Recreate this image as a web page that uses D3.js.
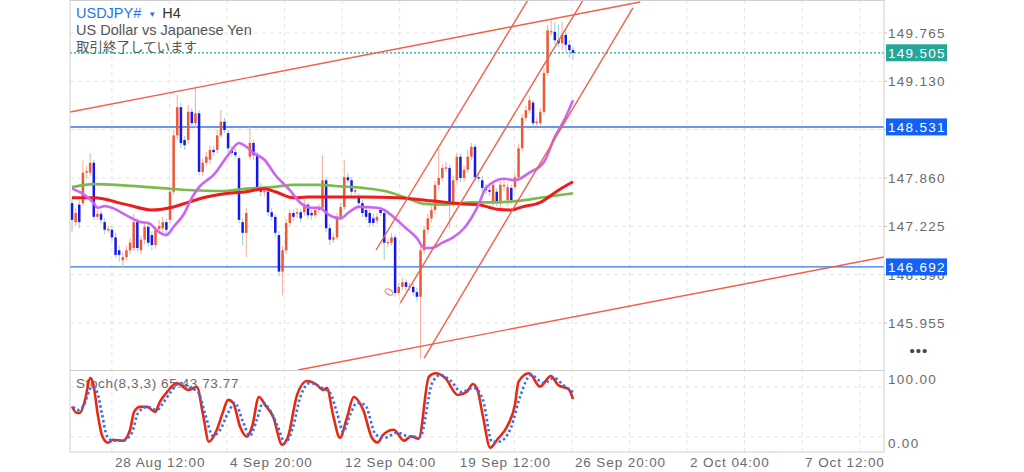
<!DOCTYPE html>
<html><head><meta charset="utf-8">
<script src="https://cdn.jsdelivr.net/npm/d3@7"></script>
<style>
html,body{margin:0;padding:0;background:#fff;}
svg{display:block;font-family:"Liberation Sans",Arial,sans-serif;}
</style></head><body>
<svg id="c" width="1024" height="472"></svg>
<script>
// ---------- DATA ----------
const symbol = "USDJPY#", timeframe = "H4";
const subtitle1 = "US Dollar vs Japanese Yen";
const subtitle2 = "取引終了しています";

const open = [147.53,147.28,147.51,147.53,147.93,147.93,148.06,147.35,147.39,147.28,
147.18,147.18,147.08,146.91,146.78,146.82,146.91,146.94,147.28,146.91,
147.05,147.22,147.11,146.98,147.19,147.20,147.28,147.31,147.68,148.42,
148.79,148.36,148.36,148.73,148.58,148.71,147.94,148.06,148.10,148.23,
148.23,148.42,148.60,148.45,148.23,148.20,148.12,147.28,147.14,148.14,
148.32,148.16,147.74,147.68,147.68,147.41,147.35,147.11,146.63,146.91,
147.27,147.40,147.39,147.41,147.41,147.51,147.40,147.37,147.44,147.47,
147.83,147.20,147.05,147.08,147.35,147.48,147.87,147.83,147.68,147.61,
147.53,147.44,147.40,147.33,147.30,147.44,147.40,147.01,147.01,147.08,
146.35,146.43,146.49,146.43,146.43,146.36,146.30,146.91,147.18,147.33,
147.44,147.77,147.86,147.99,147.99,147.53,147.83,148.14,147.86,147.97,
148.14,148.27,147.87,147.83,147.73,147.70,147.54,147.68,147.54,147.75,
147.57,147.73,147.74,147.87,148.25,148.65,148.75,148.85,148.58,148.58,
148.73,149.24,149.78,149.78,149.67,149.63,149.74,149.61,149.54];
const high = [147.60,147.47,147.57,148.10,148.02,148.19,148.10,147.44,147.43,147.33,
147.24,147.23,147.14,146.97,146.89,146.97,147.07,147.39,147.33,147.10,
147.28,147.26,147.16,147.23,147.31,147.35,147.32,147.73,148.49,148.95,
148.85,148.41,148.82,148.78,149.06,148.75,148.12,148.20,148.29,148.28,
148.49,148.75,148.65,148.49,148.28,148.25,148.16,147.33,147.47,148.53,
148.36,148.20,147.79,147.75,147.72,147.47,147.39,147.16,146.97,147.32,
147.45,147.44,147.47,147.45,147.57,147.54,147.44,147.49,147.52,148.16,
147.87,147.26,147.14,147.40,147.53,148.10,147.93,147.87,147.75,147.66,
147.57,147.48,147.44,147.39,147.40,147.49,147.44,147.07,147.14,147.12,
146.48,146.55,146.53,146.48,146.47,146.42,146.97,147.23,147.39,147.49,
147.82,148.25,148.04,148.07,148.03,147.89,148.19,148.18,148.02,148.23,
148.32,148.31,147.94,147.89,147.78,147.75,147.83,147.73,147.82,147.83,
147.79,147.77,147.93,148.31,148.70,148.81,148.94,148.88,148.65,148.78,
149.31,149.87,149.94,149.91,149.88,149.91,149.83,149.67,149.59];
const low = [147.15,147.23,147.20,147.49,147.86,147.89,147.31,147.31,147.26,147.12,
147.14,147.03,146.81,146.76,146.68,146.78,146.86,146.90,146.89,146.86,
146.99,146.95,146.91,146.93,147.14,147.15,147.12,147.26,147.64,148.36,
148.25,148.23,148.31,148.53,148.52,147.90,147.89,148.02,148.04,148.15,
148.18,148.39,148.45,148.20,148.14,148.12,147.27,146.98,146.82,148.10,
148.10,147.70,147.62,147.62,147.36,147.30,147.08,146.57,146.32,146.86,
147.22,147.30,147.33,147.28,147.36,147.32,147.31,147.33,147.40,147.43,
147.15,146.98,147.01,147.05,147.31,147.44,147.79,147.62,147.64,147.48,
147.35,147.30,147.22,147.22,147.26,147.36,146.78,146.95,146.97,146.30,
146.31,146.39,146.38,146.38,146.31,146.24,145.49,146.86,147.12,147.28,
147.39,147.72,147.82,147.94,147.20,147.48,147.78,147.81,147.81,147.93,
148.10,147.82,147.81,147.68,147.65,147.62,147.49,147.49,147.44,147.70,
147.49,147.52,147.70,147.83,148.21,148.61,148.71,148.54,148.54,148.54,
148.69,149.20,149.73,149.62,149.58,149.54,149.52,149.44,149.41];
const close = [147.31,147.40,147.28,147.93,147.95,148.06,147.35,147.39,147.31,147.18,
147.19,147.08,146.85,146.85,146.82,146.91,147.01,147.28,146.94,147.05,
147.22,147.01,146.98,147.18,147.23,147.28,147.18,147.68,148.42,148.79,
148.32,148.29,148.73,148.58,148.71,147.94,148.06,148.14,148.23,148.20,
148.42,148.60,148.49,148.25,148.19,148.16,147.31,147.14,147.40,148.32,
148.16,147.74,147.68,147.69,147.41,147.35,147.14,146.63,146.91,147.27,
147.40,147.35,147.41,147.33,147.51,147.37,147.37,147.44,147.47,147.83,
147.20,147.05,147.08,147.35,147.48,147.87,147.83,147.68,147.70,147.53,
147.40,147.35,147.27,147.27,147.35,147.40,147.01,147.02,147.08,146.35,
146.43,146.49,146.43,146.44,146.36,146.30,146.91,147.18,147.33,147.44,
147.77,147.86,147.99,148.00,147.53,147.83,148.14,147.86,147.97,148.14,
148.27,147.87,147.86,147.73,147.70,147.68,147.77,147.54,147.77,147.77,
147.74,147.57,147.87,148.25,148.65,148.75,148.88,148.58,148.60,148.73,
149.24,149.80,149.79,149.67,149.63,149.74,149.61,149.54,149.505];

// moving averages: [bar index, price]
const maFast = [[0,147.72],[6,147.53],[7,147.47],[9,147.49],[11,147.47],[15,147.37],[19,147.28],[21,147.27],[24,147.15],[26,147.11],[28,147.22],[31,147.40],[33,147.60],[35,147.74],[39,147.90],[43,148.16],[46,148.32],[48,148.27],[50,148.19],[53,148.10],[56,147.90],[60,147.70],[63,147.53],[66,147.47],[68,147.47],[71,147.37],[74,147.33],[76,147.40],[79,147.48],[84,147.47],[86,147.44],[89,147.33],[92,147.20],[95,147.07],[97,146.94],[99,146.94],[102,147.01],[105,147.08],[108,147.20],[112,147.51],[114,147.73],[119,147.85],[122,147.83],[126,147.93],[130,148.07],[133,148.40],[136,148.66],[138,148.88]];
const maMid = [[0,147.60],[6,147.60],[15,147.51],[22,147.44],[27,147.47],[32,147.54],[37,147.61],[43,147.66],[48,147.68],[53,147.72],[56,147.68],[61,147.60],[65,147.61],[70,147.61],[74,147.61],[80,147.61],[90,147.60],[99,147.56],[108,147.52],[112,147.51],[117,147.45],[121,147.44],[124,147.48],[129,147.54],[134,147.70],[138,147.81]];
const maSlow = [[0,147.74],[6,147.78],[15,147.76],[24,147.73],[33,147.70],[41,147.69],[48,147.72],[55,147.74],[61,147.77],[68,147.77],[74,147.75],[80,147.73],[87,147.68],[92,147.60],[97,147.52],[103,147.51],[110,147.54],[117,147.54],[123,147.56],[129,147.60],[138,147.66]];

// horizontal levels and current price
const levels = [148.531, 146.692];
const lastPrice = 149.505;
// trend lines: [[idx, price],[idx, price]]
const trendLines = [
  [[-0.55,148.727],[156.5,150.173]],
  [[62.26,145.337],[223.7,146.822]],
  [[83.75,146.914],[125.6,150.199]],
  [[90.4,146.217],[140.8,150.199]],
  [[97.0,145.494],[154.5,150.094]]
];

// stochastic (8,3,3): [bar index, value]
const stochName = "Stoch(8,3,3)";
const stochK = [[0,56.4],[1.3,48.8],[2.2,48.8],[3.6,64.4],[5,90.8],[5.8,84.8],[7.2,44],[8.3,21.2],[9.9,12.8],[11.3,16.4],[14,15.2],[16,28.4],[17.1,50],[18.7,56],[20.7,56],[22.9,50],[24.2,62],[26.2,74],[28.9,84.8],[30.6,80],[32,76.4],[34.4,80],[36.1,46.4],[37.7,14],[39.9,28.4],[41.6,50],[43,64.4],[44.4,60.8],[46.3,32],[48.2,20],[49.6,32],[51.5,68],[53.2,58.4],[55.4,44],[57.9,10.4],[59.5,20],[62,70.4],[64.7,87.2],[67.5,82.4],[69.1,76.4],[70.2,78.8],[71.9,46.4],[73.8,18.8],[75.8,44],[77.6,68],[80.2,52.4],[82.6,18.8],[84.2,13.2],[85.7,22.4],[88.6,28.4],[91.5,15.2],[93.4,20.4],[95.5,17.6],[98.3,92.4],[100.2,96.5],[102.8,90.8],[106.3,70.4],[108.8,74.4],[110.4,83.6],[111.7,76.4],[113.2,44.4],[115.2,6.8],[117.1,16.4],[120.1,34.4],[122,58.4],[123,86.4],[125.9,96.5],[128.9,80.4],[131.9,93.2],[133.9,82.4],[136.8,77.3],[138,65.43]];
const stochD = [[0.3,56],[1.7,52.4],[3,56],[5.5,80],[6.9,74],[8.3,46.4],[9.6,21.2],[11.3,15.2],[14,15.2],[16.5,24.8],[18.2,48.8],[20.7,56],[23.4,52.4],[25.1,60.8],[27,72.8],[29.8,84.8],[32.5,78.8],[34.7,74],[36.6,48.8],[38.8,21.2],[40.8,28.4],[43,48.8],[44.9,60.8],[47.1,38],[49,21.2],[50.9,40.4],[52.6,60.8],[54.5,52.4],[56.7,32],[58.7,12.8],[60.9,32],[62.8,66.8],[65.6,84.8],[68.9,78.8],[71.1,72.8],[73,48.8],[74.7,26],[76.6,46.4],[78.5,60.8],[80.7,58.4],[83.7,22.4],[86.2,18.8],[89.5,24.8],[93.1,20],[95.9,20],[99.2,84.8],[101.4,94.4],[104.4,87.2],[107.2,74],[110.7,78.8],[113.2,64.4],[115.7,14],[117.6,14],[120.9,30.8],[123.4,68],[126.4,94.4],[130,84.8],[132.8,90.8],[135.3,82.4],[138,73.77]];
const stochLevels = [80, 20];

// axis ticks
const priceTicks = [149.765, 149.130, 148.495, 147.860, 147.225, 146.590, 145.955];
const timeTickIdx = [11.0, 42.7, 74.4, 106.0, 137.7, 169.4, 201.1];
const timeTickLabels = ["28 Aug 12:00","4 Sep 20:00","12 Sep 04:00","19 Sep 12:00","26 Sep 20:00","2 Oct 04:00","7 Oct 12:00"];

// ---------- LAYOUT ----------
const L = 70, R = 884, MT = 0, MB = 370.5, SB = 452;
const svg = d3.select("#c");
const x = d3.scaleLinear().domain([0, close.length - 1]).range([72, 573]);
const y = d3.scaleLinear().domain([145.955, 149.765]).range([323, 33]);
const ys = d3.scaleLinear().domain([0, 100]).range([453.3, 370.4]);

const defs = svg.append("defs");
defs.append("clipPath").attr("id","clipMain").append("rect").attr("x",L).attr("y",MT).attr("width",R-L).attr("height",MB-MT);
defs.append("clipPath").attr("id","clipStoch").append("rect").attr("x",L).attr("y",MB).attr("width",R-L).attr("height",SB-MB);

// grid
const step = timeTickIdx[1]-timeTickIdx[0];
const gridIdx = [];
timeTickIdx.forEach(t => { gridIdx.push(t); gridIdx.push(t + step/2); });
const grid = svg.append("g").attr("stroke","#e4e4e4").attr("stroke-dasharray","4,4").attr("stroke-width",1);
gridIdx.filter(t => x(t) > L && x(t) < R).forEach(t => {
  grid.append("line").attr("x1",x(t)).attr("x2",x(t)).attr("y1",MT).attr("y2",SB);
});
priceTicks.forEach(p => grid.append("line").attr("x1",L).attr("x2",R).attr("y1",y(p)).attr("y2",y(p)));
stochLevels.forEach(v => grid.append("line").attr("x1",L).attr("x2",R).attr("y1",ys(v)).attr("y2",ys(v)));

// title
const t1 = svg.append("text").attr("x",76).attr("y",18).attr("font-size",14.5);
t1.append("tspan").attr("fill","#1f74e8").text(symbol);
t1.append("tspan").attr("fill","#1f74e8").attr("font-size",8).attr("dx",7).attr("dy",-1).text("▼");
t1.append("tspan").attr("fill","#333").attr("dx",6).attr("dy",1).text(timeframe);
svg.append("text").attr("x",76).attr("y",35).attr("font-size",14.5).attr("fill","#555").text(subtitle1);
svg.append("text").attr("x",76).attr("y",52).attr("font-size",13.5).attr("fill","#555")
  .attr("font-family","'Noto Sans CJK JP',sans-serif").text(subtitle2);

// main pane content
const main = svg.append("g").attr("clip-path","url(#clipMain)");
levels.forEach(p => main.append("line").attr("x1",L).attr("x2",R).attr("y1",y(p)).attr("y2",y(p))
  .attr("stroke","#3574f0").attr("stroke-width",1.4));
main.append("line").attr("x1",L).attr("x2",R).attr("y1",y(lastPrice)).attr("y2",y(lastPrice))
  .attr("stroke","#26a69a").attr("stroke-width",1.2).attr("stroke-dasharray","2,2");

const bars = close.map((c,i) => ({i, o:open[i], h:high[i], l:low[i], c}));
main.selectAll("line.wick").data(bars).join("line").attr("class","wick")
  .attr("x1",d=>x(d.i)).attr("x2",d=>x(d.i)).attr("y1",d=>y(d.h)).attr("y2",d=>y(d.l))
  .attr("stroke",d=>d.c>=d.o?"#f4b2a6":"#9fd5cf").attr("stroke-width",1.1);
main.selectAll("rect.body").data(bars).join("rect").attr("class","body")
  .attr("x",d=>x(d.i)-1.25).attr("width",2.5)
  .attr("y",d=>y(Math.max(d.o,d.c)))
  .attr("height",d=>Math.max(1.3, Math.abs(y(d.o)-y(d.c))))
  .attr("fill",d=>d.c>=d.o?"#ee5833":"#1616ee");

const ml = d3.line().x(d=>x(d[0])).y(d=>y(d[1])).curve(d3.curveMonotoneX);
main.append("path").attr("d",ml(maSlow)).attr("fill","none").attr("stroke","#7dba4c").attr("stroke-width",2.6);
main.append("path").attr("d",ml(maMid)).attr("fill","none").attr("stroke","#ee1c1c").attr("stroke-width",3);
main.append("path").attr("d",ml(maFast)).attr("fill","none").attr("stroke","#cc66ee").attr("stroke-width",2.6);

trendLines.forEach(tl => main.append("line")
  .attr("x1",x(tl[0][0])).attr("y1",y(tl[0][1])).attr("x2",x(tl[1][0])).attr("y2",y(tl[1][1]))
  .attr("stroke","#f0604a").attr("stroke-width",1.4));
main.append("text").attr("transform",`translate(${x(88.4)},${y(146.33)}) rotate(-58)`)
  .attr("font-size",13).attr("fill","#f28a78").attr("text-anchor","middle").text("0");

// stochastic pane
svg.append("text").attr("x",76).attr("y",388).attr("font-size",13.5).attr("fill","#6b6b6b")
  .attr("letter-spacing",0.6)
  .text(`${stochName} ${stochK[stochK.length-1][1].toFixed(2)} ${stochD[stochD.length-1][1].toFixed(2)}`);
const sg = svg.append("g").attr("clip-path","url(#clipStoch)");
const sl = d3.line().x(d=>x(d[0])).y(d=>ys(d[1])).curve(d3.curveMonotoneX);
sg.append("path").attr("d",sl(stochK)).attr("fill","none").attr("stroke","#e52a12").attr("stroke-width",2.6).attr("stroke-linejoin","round");
sg.append("path").attr("d",sl(stochD)).attr("fill","none").attr("stroke","#3a6cf4").attr("stroke-width",2.6).attr("stroke-dasharray","2.4,2.6");

// frame
const fr = svg.append("g").attr("stroke","#cfcfcf").attr("stroke-width",1).attr("fill","none");
fr.append("line").attr("x1",L).attr("x2",L).attr("y1",0).attr("y2",SB);
fr.append("line").attr("x1",R).attr("x2",R).attr("y1",0).attr("y2",SB);
fr.append("line").attr("x1",L).attr("x2",R).attr("y1",0.5).attr("y2",0.5);
fr.append("line").attr("x1",L).attr("x2",R).attr("y1",MB).attr("y2",MB);
fr.append("line").attr("x1",L).attr("x2",R).attr("y1",SB).attr("y2",SB);

// right price axis (tick labels fully hidden behind a level label are not drawn)
const labelled = [lastPrice, ...levels];
const ax = svg.append("g");
priceTicks.forEach(p => {
  ax.append("line").attr("x1",R).attr("x2",R+3).attr("y1",y(p)).attr("y2",y(p)).attr("stroke","#bbb");
  if (labelled.some(q => Math.abs(y(q) - y(p)) < 5)) return;
  ax.append("text").attr("x",888).attr("y",y(p)).attr("dy","0.36em").attr("font-size",13.5)
    .attr("letter-spacing",1.3).attr("fill","#6b6b6b").text(p.toFixed(3));
});
[[100,379],[0,443]].forEach(([v,py]) => {
  ax.append("text").attr("x",888).attr("y",py).attr("dy","0.36em").attr("font-size",13.5)
    .attr("letter-spacing",1.3).attr("fill","#6b6b6b").text(v.toFixed(2));
});
function priceLabel(p, bg){
  ax.append("rect").attr("x",886).attr("y",y(p)-8.5).attr("width",61).attr("height",17).attr("fill",bg);
  ax.append("text").attr("x",888).attr("y",y(p)).attr("dy","0.36em").attr("font-size",13.5)
    .attr("letter-spacing",1.3).attr("fill","#fff").text(p.toFixed(3));
}
priceLabel(lastPrice, "#26a69a");
levels.forEach(p => priceLabel(p, "#1361f5"));
ax.append("text").attr("x",919).attr("y",356).attr("text-anchor","middle").attr("font-size",15)
  .attr("fill","#444").attr("letter-spacing",1).text("•••");

// time axis
timeTickIdx.forEach((t,k) => {
  ax.append("text").attr("x",x(t)+3).attr("y",467).attr("font-size",13.5).attr("letter-spacing",0.9)
    .attr("fill","#6b6b6b").text(timeTickLabels[k]);
});
</script>
</body></html>
